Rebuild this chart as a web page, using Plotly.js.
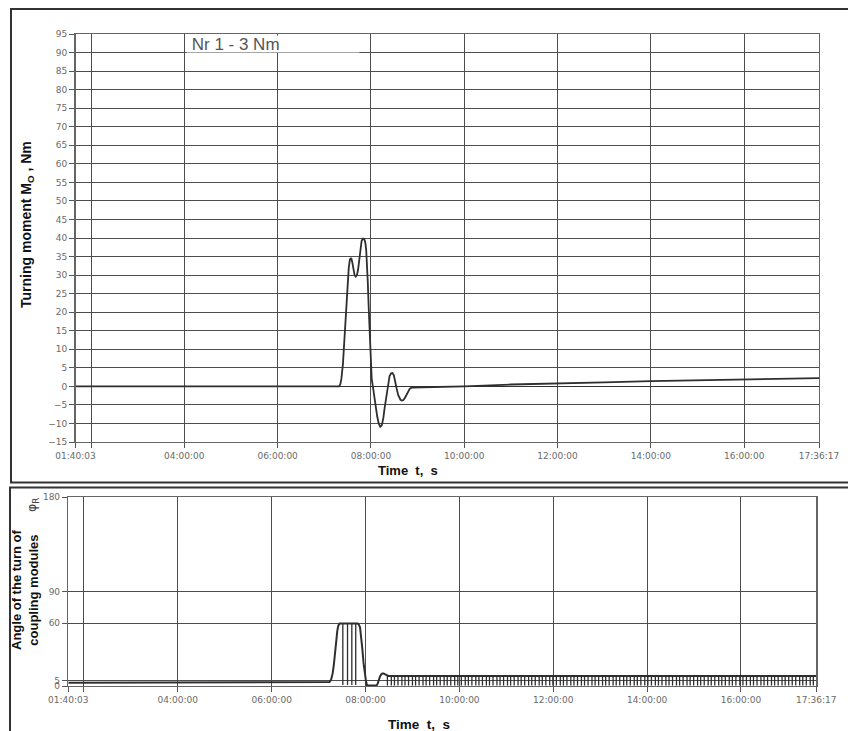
<!DOCTYPE html>
<html>
<head>
<meta charset="utf-8">
<script src="https://cdn.plot.ly/plotly-3.0.1.min.js"></script>
<style>
  html, body { margin: 0; padding: 0; background: #fff; }
  #chart { width: 848px; height: 731px; }
</style>
</head>
<body>
<div id="chart"></div>
<script>
// ---------------- DATA ----------------
const BASE_DAY = '2000-01-01 ';

// top panel: turning moment (Nm)
const torqueTime = ['01:40:03','07:19:00','07:20:36','07:22:00','07:24:00','07:26:00','07:28:00','07:30:00','07:31:30','07:33:00','07:34:42','07:36:00','07:37:30','07:39:00','07:40:30','07:42:00','07:43:30','07:45:00','07:46:30','07:48:00','07:49:30','07:50:30','07:52:00','07:53:00','07:54:00','07:55:00','07:56:00','07:57:00','07:58:30','07:59:30','08:01:00','08:02:30','08:04:00','08:06:00','08:08:00','08:10:00','08:12:00','08:14:00','08:16:00','08:17:30','08:19:30','08:21:00','08:22:30','08:24:00','08:26:00','08:27:42','08:29:30','08:31:00','08:33:00','08:35:00','08:36:30','08:38:00','08:40:00','08:41:48','08:44:00','08:46:00','08:48:00','08:50:00','08:53:00','09:30:00','10:00:00','11:00:00','12:00:00','13:00:00','14:00:00','15:00:00','16:00:00','17:00:00','17:36:17'];
const torqueValue = [0, 0, 0.5, 2, 6, 13, 21, 28, 32, 34.2, 34.6, 33.5, 31.5, 30, 29.6, 30, 31.5, 34, 37, 39.2, 39.8, 39.8, 39.4, 38.5, 36.5, 33, 28, 22, 13, 7, 2, 0, -2.5, -5.5, -8, -10, -10.9, -10.5, -8.5, -6, -3, -0.5, 1.5, 2.8, 3.5, 3.6, 3, 1.8, -0.5, -2.3, -3.2, -3.6, -3.8, -3.7, -3, -2.2, -1.3, -0.6, -0.3, -0.2, 0, 0.5, 0.9, 1.1, 1.4, 1.6, 1.9, 2.1, 2.2];

// bottom panel: angle of the turn of coupling modules (deg)
const angleTime = ['01:40:03','07:12:00','07:14:00','07:16:00','07:18:00','07:19:30','07:21:00','07:22:30','07:24:00','07:25:30','07:27:00','07:50:00','07:51:30','07:53:00','07:54:30','07:56:00','07:57:30','07:59:00','08:00:30','08:02:00','08:14:00','08:15:30','08:17:00','08:18:30','08:20:00','08:21:30','08:23:00','08:25:00','08:27:00','08:29:00','17:36:17'];
const angleValue = [3.2, 3.2, 3.8, 6, 12, 20, 32, 45, 53, 58, 59.5, 59.5, 58.5, 56, 47, 35, 22, 12, 5, 0.5, 0.5, 2, 6, 9, 11, 12, 12, 11, 10.2, 9.6, 9.5];

// drops during the plateau
const plateauDropTime = ['07:31:00','07:37:00','07:42:30','07:47:30'];
const plateauDropTop = [59.5, 59.5, 59.5, 59.5];
const plateauDropBottom = [1, 1, 1, 1];

// short drops of the angle signal after 08:00 (minutes after 08:00)
const pulseMinutes = [28, 33, 37, 41.5, 46.5, 50.5, 55, 60, 64, 68.5, 73.5, 77.5, 82, 87, 91, 95.5, 100.5, 104.5, 109, 114, 118, 122.5, 127.5, 131.5, 136, 141, 145, 149.5, 154.5, 158.5, 163, 168, 172, 176.5, 181.5, 185.5, 190, 195, 199, 203.5, 208.5, 212.5, 217, 222, 226, 230.5, 235.5, 239.5, 244, 249, 253, 257.5, 262.5, 266.5, 271, 276, 280, 284.5, 289.5, 293.5, 298, 303, 307, 311.5, 316.5, 320.5, 325, 330, 334, 338.5, 343.5, 347.5, 352, 357, 361, 365.5, 370.5, 374.5, 379, 384, 388, 392.5, 397.5, 401.5, 406, 411, 415, 419.5, 424.5, 428.5, 433, 438, 442, 446.5, 451.5, 455.5, 460, 465, 469, 473.5, 478.5, 482.5, 487, 492, 496, 500.5, 505.5, 509.5, 514, 519, 523, 527.5, 532.5, 536.5, 541, 545.5, 550, 555, 559, 563.5, 568.5, 572.5];
const pulseTop = 9.5;
const pulseBottom = 0.4;

// axis ticks
const xTickVals = ['01:40:03','02:00:00','04:00:00','06:00:00','08:00:00','10:00:00','12:00:00','14:00:00','16:00:00','17:36:17'];
const xTickText = ['01:40:03','','04:00:00','06:00:00','08:00:00','10:00:00','12:00:00','14:00:00','16:00:00','17:36:17'];
const yTopTicks = [-15,-10,-5,0,5,10,15,20,25,30,35,40,45,50,55,60,65,70,75,80,85,90,95];
const yBottomTicks = [0,5,60,90,180];

// ---------------- HELPERS ----------------
const d = t => BASE_DAY + t;
function minutesAfter8(m) {
  const total = Math.round((8 * 60 + m) * 60);
  const h = Math.floor(total / 3600), mi = Math.floor((total % 3600) / 60), s = total % 60;
  const p = n => String(n).padStart(2, '0');
  return BASE_DAY + p(h) + ':' + p(mi) + ':' + p(s);
}

const W = 848, H = 731;
const px = x => x / W;
const py = y => 1 - y / H;

// vertical drop segments
const dropX = [], dropY = [];
plateauDropTime.forEach((t, i) => { dropX.push(d(t), d(t), null); dropY.push(plateauDropTop[i], plateauDropBottom[i], null); });
pulseMinutes.forEach(m => { const t = minutesAfter8(m); dropX.push(t, t, null); dropY.push(pulseTop, pulseBottom, null); });

const lineCol = '#2e2e2e';
const gridCol = '#4d4d4d';
const tickFont = { family: 'DejaVu Sans, Verdana, sans-serif', size: 9, color: '#6a6a6a' };

const traces = [
  { x: torqueTime.map(d), y: torqueValue, xaxis: 'x', yaxis: 'y', mode: 'lines',
    line: { color: lineCol, width: 1.8 }, hoverinfo: 'skip' },
  { x: angleTime.map(d), y: angleValue, xaxis: 'x2', yaxis: 'y2', mode: 'lines',
    line: { color: lineCol, width: 2 }, hoverinfo: 'skip' },
  { x: dropX, y: dropY, xaxis: 'x2', yaxis: 'y2', mode: 'lines',
    line: { color: lineCol, width: 1.3 }, hoverinfo: 'skip', connectgaps: false }
];

const xCommon = {
  type: 'date', tickvals: xTickVals.map(d), ticktext: xTickText, range: [d('01:40:03'), d('17:36:17')],
  tickangle: 0, automargin: false,
  showgrid: true, gridcolor: gridCol, gridwidth: 1, showline: true, mirror: true,
  linecolor: '#666', linewidth: 1.4, ticks: 'outside', ticklen: 5, tickcolor: '#555',
  tickfont: tickFont, zeroline: false, fixedrange: true
};

const layout = {
  width: W, height: H, margin: { l: 0, r: 0, t: 0, b: 0 },
  paper_bgcolor: '#fff', plot_bgcolor: '#fff', showlegend: false,
  font: { family: 'Liberation Sans, Arial, sans-serif' },
  xaxis: Object.assign({}, xCommon, { domain: [px(75.5), px(819)], anchor: 'y' }),
  yaxis: { domain: [py(442), py(34)], anchor: 'x', range: [-15, 95], tickvals: yTopTicks,
    showgrid: true, gridcolor: gridCol, gridwidth: 1, showline: true, mirror: true,
    linecolor: '#666', linewidth: 1.4, ticks: 'outside', ticklen: 5, tickcolor: '#555',
    tickfont: tickFont, zeroline: true, zerolinecolor: '#333', zerolinewidth: 1.6, fixedrange: true },
  xaxis2: Object.assign({}, xCommon, { domain: [px(68.3), px(816.3)], anchor: 'y2' }),
  yaxis2: { domain: [py(686), py(497)], anchor: 'x2', range: [0, 180], tickvals: yBottomTicks,
    showgrid: true, gridcolor: gridCol, gridwidth: 1, showline: true, mirror: true,
    linecolor: '#666', linewidth: 1.4, ticks: 'outside', ticklen: 5, tickcolor: '#555',
    tickfont: tickFont, zeroline: false, fixedrange: true },
  shapes: [
    { type: 'rect', xref: 'paper', yref: 'paper', x0: px(11), x1: 1.02, y0: py(482.5), y1: py(9),
      line: { color: '#333', width: 2 }, fillcolor: 'rgba(0,0,0,0)' },
    { type: 'rect', xref: 'paper', yref: 'paper', x0: px(10), x1: 1.02, y0: -0.05, y1: py(487.5),
      line: { color: '#333', width: 2 }, fillcolor: 'rgba(0,0,0,0)' }
  ],
  annotations: [
    { xref: 'paper', yref: 'paper', x: px(186), y: py(43.5), xanchor: 'left', yanchor: 'middle',
      text: '&nbsp;Nr 1 - 3 Nm', showarrow: false, align: 'left', bgcolor: '#fff', width: 172, height: 16, borderpad: 0,
      font: { family: 'Liberation Sans, Arial, sans-serif', size: 17, color: '#555' } },
    { xref: 'paper', yref: 'paper', x: px(27), y: py(225), xanchor: 'center', yanchor: 'middle', textangle: -90,
      text: '<b>Turning moment M<sub>O</sub> , Nm</b>', showarrow: false,
      font: { family: 'Liberation Sans, Arial, sans-serif', size: 14, color: '#111' } },
    { xref: 'paper', yref: 'paper', x: px(408), y: py(470), xanchor: 'center', yanchor: 'middle',
      text: '<b>Time  t,  s</b>', showarrow: false,
      font: { family: 'Liberation Sans, Arial, sans-serif', size: 13, color: '#111' } },
    { xref: 'paper', yref: 'paper', x: px(419), y: py(724), xanchor: 'center', yanchor: 'middle',
      text: '<b>Time  t,  s</b>', showarrow: false,
      font: { family: 'Liberation Sans, Arial, sans-serif', size: 13.5, color: '#111' } },
    { xref: 'paper', yref: 'paper', x: px(25), y: py(590), xanchor: 'center', yanchor: 'middle', textangle: -90,
      text: '<b>Angle of the turn of<br>coupling modules</b>', showarrow: false,
      font: { family: 'Liberation Sans, Arial, sans-serif', size: 13, color: '#111' } },
    { xref: 'paper', yref: 'paper', x: px(32), y: py(505), xanchor: 'center', yanchor: 'middle', textangle: -90,
      text: 'φ<sub>R</sub>', showarrow: false,
      font: { family: 'DejaVu Sans, sans-serif', size: 12.5, color: '#444' } }
  ]
};

Plotly.newPlot('chart', traces, layout, { staticPlot: true, displayModeBar: false });
</script>
</body>
</html>
